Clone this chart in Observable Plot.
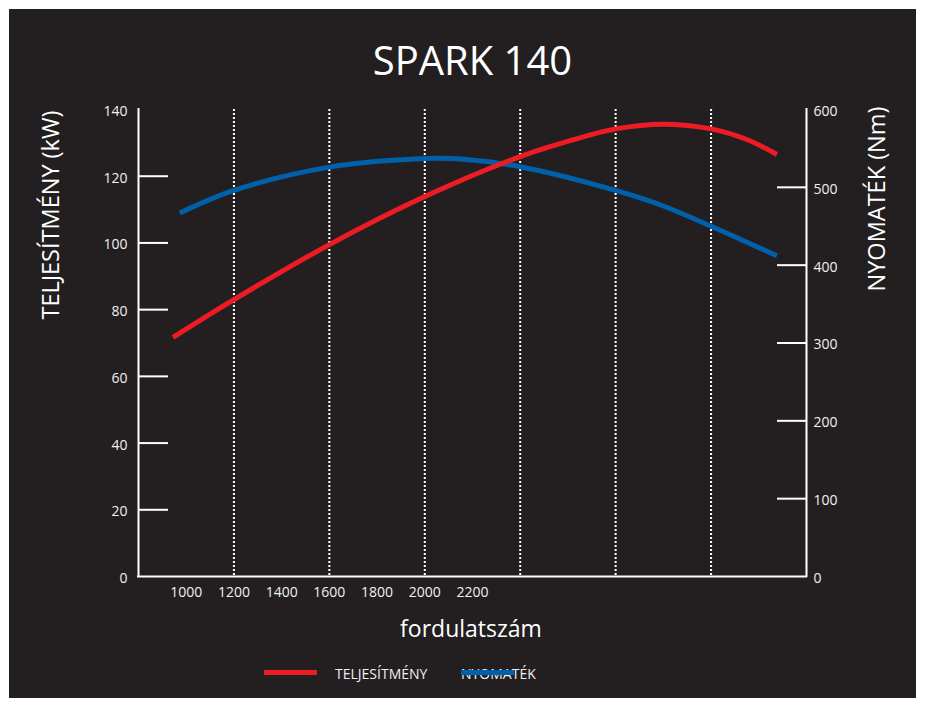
<!DOCTYPE html>
<html>
<head>
<meta charset="utf-8">
<script src="https://cdn.jsdelivr.net/npm/d3@7"></script>
<script src="https://cdn.jsdelivr.net/npm/@observablehq/plot@0.6"></script>
<style>
html, body { margin: 0; padding: 0; background: #ffffff; }
#page { position: relative; width: 926px; height: 707px; overflow: hidden; font-family: "Open Sans", sans-serif; color: #ffffff; }
#bg { position: absolute; left: 9px; top: 9px; width: 907px; height: 689px; background: #231f20; }
#title { position: absolute; left: 472.5px; top: 39.5px; transform: translateX(-50%); font-size: 40px; line-height: 40px; white-space: nowrap; }
#xlabel { position: absolute; left: 471px; top: 616.6px; transform: translateX(-50%); font-size: 23px; line-height: 23px; white-space: nowrap; }
.ytitle { position: absolute; font-size: 23.5px; line-height: 23.5px; white-space: nowrap; transform: translate(-50%, -50%) rotate(-90deg); }
#chart { position: absolute; left: 0; top: 90px; }
.sw { position: absolute; height: 5px; width: 53px; top: 670px; z-index: 2; }
.lt { position: absolute; font-size: 14px; line-height: 14px; top: 666.6px; white-space: nowrap; color: #f0f0f0; z-index: 1; }
</style>
</head>
<body>
<div id="page">
  <div id="bg"></div>
  <div id="title">SPARK 140</div>
  <div class="ytitle" style="left:50.5px; top:215px;">TELJESÍTMÉNY (kW)</div>
  <div class="ytitle" style="left:876.8px; top:199px;">NYOMATÉK (Nm)</div>
  <div id="chart"></div>
  <div id="xlabel">fordulatszám</div>
  <div class="sw" style="left:264px; background:#ed1c24;"></div>
  <div class="lt" style="left:335px;">TELJESÍTMÉNY</div>
  <div class="lt" style="left:461px;">NYOMATÉK</div>
  <div class="sw" style="left:461px; background:#0060a9;"></div>
</div>
<script>
// Power curve (kW) vs engine speed (rpm)
const powerRpm = [945, 1200, 1600, 2000, 2400, 2650, 2800, 3000, 3200, 3350, 3476];
const powerKw  = [71.7, 83.0, 99.5, 113.9, 125.9, 131.5, 134.2, 135.6, 134.2, 131.0, 126.5];
// Torque curve (Nm) vs engine speed (rpm)
const torqueRpm = [973, 1200, 1600, 2000, 2150, 2400, 2800, 3000, 3200, 3476];
const torqueNm  = [467, 496, 526, 537, 536.5, 526.5, 496, 476, 450, 412];

const kwTicks = [0, 20, 40, 60, 80, 100, 120, 140];
const kwTickMarks = [20, 40, 60, 80, 100, 120];
const nmTicks = [0, 100, 200, 300, 400, 500, 600];
const nmTickMarks = [100, 200, 300, 400, 500];
const rpmLabels = [1000, 1200, 1400, 1600, 1800, 2000, 2200];
const rpmGrid = [1200, 1600, 2000, 2400, 2800, 3200];
const rpmDomain = [800, 3600];
const kwDomain = [0, 140];
const nmMax = 600;

const toKw = v => v * kwDomain[1] / nmMax;
const power = powerRpm.map((r, i) => ({rpm: r, kw: powerKw[i]}));
const torque = torqueRpm.map((r, i) => ({rpm: r, nm: torqueNm[i]}));

const chart = Plot.plot({
  width: 926,
  height: 530,
  marginTop: 19,
  marginBottom: 44,
  marginLeft: 138,
  marginRight: 120,
  style: {background: "transparent", color: "#f0f0f0", fontFamily: "Open Sans, sans-serif", fontSize: "14px", overflow: "visible"},
  x: {domain: rpmDomain},
  y: {domain: kwDomain},
  marks: [
    Plot.ruleX(rpmGrid, {stroke: "#ffffff", strokeWidth: 2, strokeDasharray: "2,2"}),
    Plot.axisY(kwTickMarks, {anchor: "left", tickSize: 30, dx: 30, fill: "none", stroke: "#ffffff", strokeWidth: 2, label: null}),
    Plot.axisY(kwTicks, {anchor: "left", tickSize: 0, tickPadding: 11, dy: 2, label: null, fontSize: 14, tickFormat: d => String(d)}),
    Plot.axisY(nmTickMarks, {y: toKw, anchor: "right", tickSize: 30, dx: -30, fill: "none", stroke: "#ffffff", strokeWidth: 2, label: null}),
    Plot.axisY(nmTicks, {y: toKw, anchor: "right", tickSize: 0, tickPadding: 7, dy: 2, label: null, fontSize: 14, tickFormat: d => String(d)}),
    Plot.axisX(rpmLabels, {anchor: "bottom", tickSize: 0, tickPadding: 11, label: null, fontSize: 14, tickFormat: d => String(d)}),
    Plot.ruleX(rpmDomain, {stroke: "#ffffff", strokeWidth: 2, strokeLinecap: "square"}),
    Plot.ruleY([0], {stroke: "#ffffff", strokeWidth: 2, strokeLinecap: "square"}),
    Plot.line(torque, {x: "rpm", y: d => toKw(d.nm), stroke: "#0060a9", strokeWidth: 5, curve: "catmull-rom", strokeLinecap: "butt"}),
    Plot.line(power, {x: "rpm", y: "kw", stroke: "#ed1c24", strokeWidth: 5, curve: "catmull-rom", strokeLinecap: "butt"})
  ]
});
document.getElementById("chart").appendChild(chart);
</script>
</body>
</html>
